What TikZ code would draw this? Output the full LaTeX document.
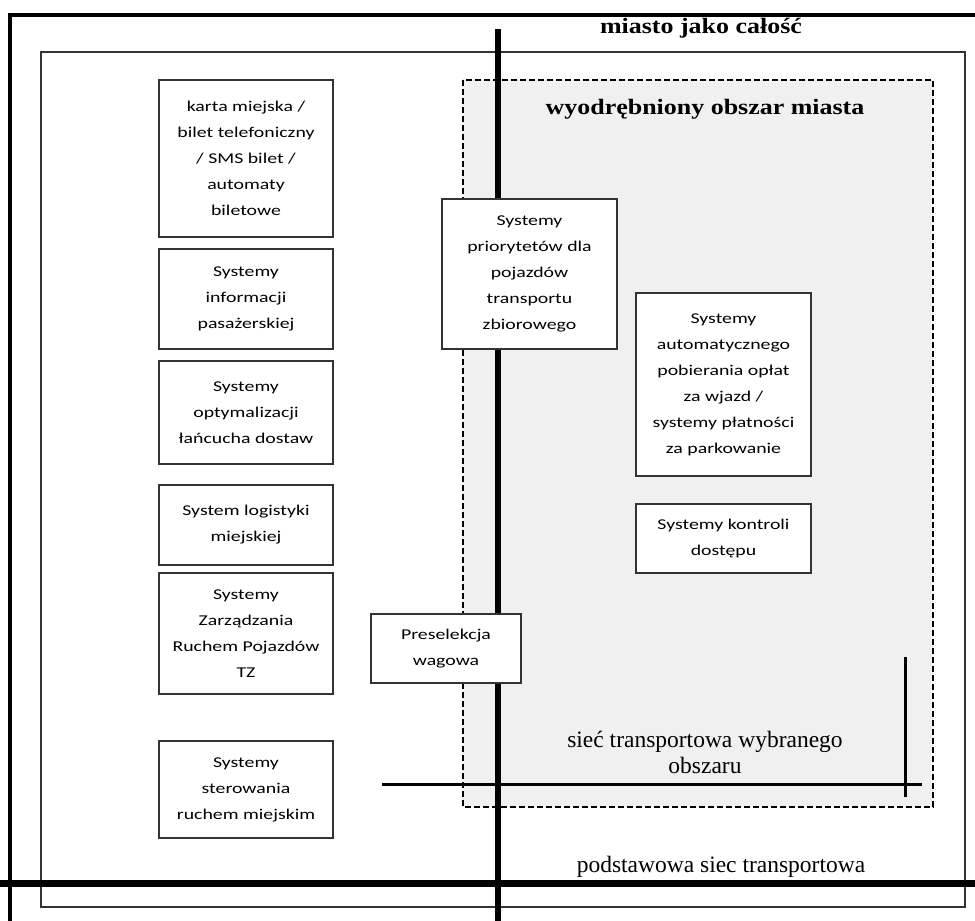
\documentclass[tikz,border=0pt]{standalone}
\usepackage{fontspec}
\setmainfont{Liberation Serif}
\newfontfamily\boxfont[FakeStretch=1.32]{Carlito}
\newfontfamily\titlefont[FakeStretch=1.18]{Liberation Serif}
\definecolor{areagray}{HTML}{F0F0F0}
\definecolor{framegray}{HTML}{333333}
\begin{document}
\begin{tikzpicture}[x=1pt,y=-1pt,
  sbox/.style={draw=framegray, line width=1.4pt, fill=white, inner sep=0pt, align=center,
    font=\boxfont\fontsize{15}{26}\selectfont},
  heavy/.style={line width=6pt},
  frameline/.style={line width=3.6pt},
  netline/.style={line width=3pt},
  titletext/.style={font=\titlefont\bfseries\fontsize{22}{26}\selectfont, anchor=base},
  nettext/.style={font=\fontsize{23.5}{26}\selectfont, align=center}]
\useasboundingbox (0,0) rectangle (975,921);
% dashed area
\draw[line width=1.6pt, fill=areagray, dash pattern=on 6pt off 3pt] (463,80) rectangle (933,807);
% inner frame
\draw[line width=1.4pt, draw=framegray] (41,52) rectangle (965,907);
% outer frame
\coordinate (tl) at (10,15);
\coordinate (tr) at (975,15);
\coordinate (bl) at (10,921);
\draw[frameline] (tr) -- (tl) -- (bl);
% main vertical
\coordinate (vtop) at (497.5,29);
\coordinate (vbot) at (497.5,921);
\draw[heavy] (vtop) -- (vbot);
% bottom horizontal
\coordinate (hl) at (0,883.5);
\coordinate (hr) at (975,883.5);
\draw[line width=6.5pt] (hl) -- (hr);
% network lines
\coordinate (nl) at (382,784);
\coordinate (nr) at (922,784);
\coordinate (nt) at (905,657);
\coordinate (nb) at (905,797);
\draw[netline] (nl) -- (nr);
\draw[netline] (nt) -- (nb);
% texts
\node[titletext] (miasto) at (701,33) {miasto jako całość};
\node[titletext] (obszar) at (705,114) {wyodrębniony obszar miasta};
\node[nettext] (siecw) at (705,752) {sieć transportowa wybranego\\obszaru};
\node[nettext, anchor=base] (siecp) at (721,872) {podstawowa siec transportowa};
% left boxes
\node[sbox, minimum width=174pt, minimum height=157pt] (karta) at (246,158.5)
  {karta miejska /\\bilet telefoniczny\\/ SMS bilet /\\automaty\\biletowe};
\node[sbox, minimum width=174pt, minimum height=100pt] (info) at (246,299)
  {Systemy\\informacji\\pasażerskiej};
\node[sbox, minimum width=174pt, minimum height=103pt] (optym) at (246,412.5)
  {Systemy\\optymalizacji\\łańcucha dostaw};
\node[sbox, minimum width=174pt, minimum height=80pt] (logist) at (246,525)
  {System logistyki\\miejskiej};
\node[sbox, minimum width=174pt, minimum height=121pt] (zarz) at (246,633.5)
  {Systemy\\Zarządzania\\Ruchem Pojazdów\\TZ};
\node[sbox, minimum width=174pt, minimum height=97pt] (ster) at (246,789.5)
  {Systemy\\sterowania\\ruchem miejskim};
% middle/right boxes
\node[sbox, minimum width=175pt, minimum height=150pt] (prior) at (529.5,274)
  {Systemy\\priorytetów dla\\pojazdów\\transportu\\zbiorowego};
\node[sbox, minimum width=175pt, minimum height=183pt] (oplat) at (723.5,384.5)
  {Systemy\\automatycznego\\pobierania opłat\\za wjazd /\\systemy płatności\\za parkowanie};
\node[sbox, minimum width=175pt, minimum height=69pt] (kontr) at (723.5,538.5)
  {Systemy kontroli\\dostępu};
\node[sbox, minimum width=150pt, minimum height=69pt] (presel) at (446,648.5)
  {Preselekcja\\wagowa};
\end{tikzpicture}
\end{document}
